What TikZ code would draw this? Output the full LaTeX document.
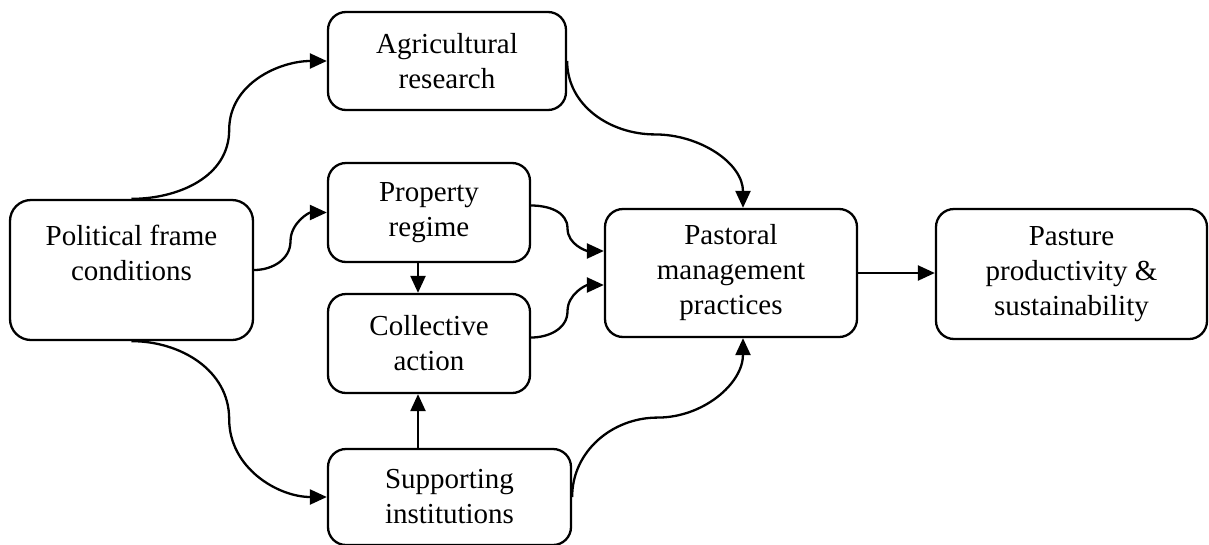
\documentclass[tikz,border=0pt]{standalone}
\usepackage{fontspec}
\setmainfont{Liberation Serif}
\usetikzlibrary{positioning,calc,arrows.meta}

\begin{document}
\begin{tikzpicture}[
  x=1pt, y=-1pt,
  box/.style={draw=black, line width=2.3pt, rounded corners=18pt, fill=white,
              align=center, inner sep=0pt, font=\fontsize{29}{35}\selectfont},
  arr/.style={-{Triangle[length=17pt, width=15pt]}, line width=2.3pt},
]

% page frame
\useasboundingbox (0,0) rectangle (1209,544);

% boxes
\node[box, minimum width=243pt, minimum height=140pt, rounded corners=21pt] (political) at (131.5,270) {Political frame\\conditions\\~};
\node[box, minimum width=238pt, minimum height=98pt]  (agri)       at (447,61)    {Agricultural\\research};
\node[box, minimum width=202pt, minimum height=99pt]  (property)   at (429,212.5) {Property\\regime};
\node[box, minimum width=202pt, minimum height=99pt]  (collective) at (429,343.5) {Collective\\action};
\node[box, minimum width=243pt, minimum height=96pt]  (supporting) at (449.5,497) {Supporting\\institutions};
\node[box, minimum width=252pt, minimum height=128pt] (pastoral)   at (731,273)   {Pastoral\\management\\practices};
\node[box, minimum width=271pt, minimum height=130pt] (pasture)    at (1071.5,274) {Pasture\\productivity \&\\sustainability};

% docking points
\coordinate (pn)  at ([xshift=12pt]pastoral.north);
\coordinate (ps)  at ([xshift=12pt]pastoral.south);
\coordinate (pw1) at ([yshift=22pt]pastoral.west);
\coordinate (pw2) at ([yshift=-12pt]pastoral.west);
\coordinate (pe)  at ([yshift=7pt]property.east);
\coordinate (ce)  at ([yshift=6pt]collective.east);
\coordinate (cax) at ([xshift=-11pt]collective.south);

% from the political frame
\draw[arr] (political.north) to[out=0,in=-90] ($(political.north)!0.5!(agri.west)$)
  to[out=90,in=180] (agri.west);
\draw[arr] (political.east) to[out=0,in=-90] ($(political.east)!0.5!(property.west)$)
  to[out=90,in=180] (property.west);
\draw[arr] (political.south) to[out=0,in=90] ($(political.south)!0.5!(supporting.west)$)
  to[out=-90,in=180] (supporting.west);

% middle column
\draw[arr] ([xshift=-11pt]property.south) -- ([xshift=-11pt]collective.north);
\draw[arr] (supporting.north -| cax) -- (cax);

% into pastoral management
\draw[arr] (agri.east) to[out=-90,in=180] ($(agri.east)!0.5!(pn)$)
  to[out=0,in=90] (pn);
\draw[arr] (pe) to[out=0,in=90] ($(pe)!0.5!(pw1)$)
  to[out=-90,in=180] (pw1);
\draw[arr] (ce) to[out=0,in=-90] ($(ce)!0.5!(pw2)$)
  to[out=90,in=180] (pw2);
\draw[arr] (supporting.east) to[out=90,in=180] ($(supporting.east)!0.5!(ps)$)
  to[out=0,in=-90] (ps);

% outcome
\draw[arr] (pastoral.east) -- (pastoral.east -| pasture.west);

\end{tikzpicture}
\end{document}
